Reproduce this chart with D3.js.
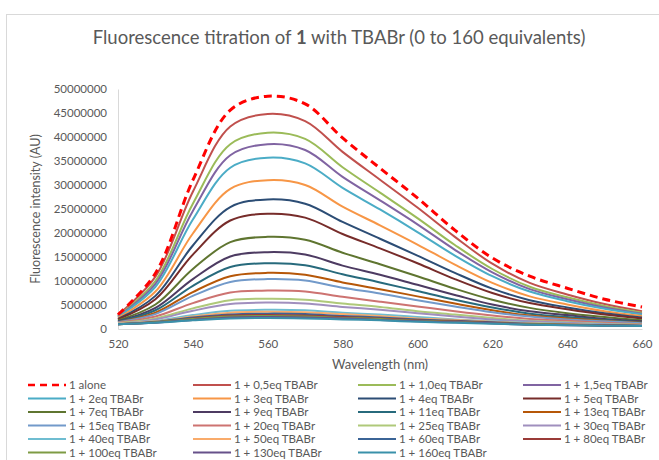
<!DOCTYPE html>
<html>
<head>
<meta charset="utf-8">
<script src="https://cdn.jsdelivr.net/npm/d3@7"></script>
<style>
  html, body { margin: 0; padding: 0; background: #ffffff; }
  svg { display: block; }
  text { font-family: Lato, "Open Sans", "Liberation Sans", sans-serif; fill: #595959; }
</style>
</head>
<body>
<svg id="chart" width="659" height="460"></svg>
<script>
// ---- data (intensity in millions of AU) ----
const wavelengths = [520, 530, 540, 550, 560, 570, 580, 590, 600, 610, 620, 630, 640, 650, 660];
const xTicks = [520, 540, 560, 580, 600, 620, 640, 660];
const yTicks = [0, 5, 10, 15, 20, 25, 30, 35, 40, 45, 50];

const seriesNames = ["1 alone", "1 + 0,5eq TBABr", "1 + 1,0eq TBABr", "1 + 1,5eq TBABr",
  "1 + 2eq TBABr", "1 + 3eq TBABr", "1 + 4eq TBABr", "1 + 5eq TBABr",
  "1 + 7eq TBABr", "1 + 9eq TBABr", "1 + 11eq TBABr", "1 + 13eq TBABr",
  "1 + 15eq TBABr", "1 + 20eq TBABr", "1 + 25eq TBABr", "1 + 30eq TBABr",
  "1 + 40eq TBABr", "1 + 50eq TBABr", "1 + 60eq TBABr", "1 + 80eq TBABr",
  "1 + 100eq TBABr", "1 + 130eq TBABr", "1 + 160eq TBABr"];

const eq0   = [3.0, 11.6, 31.0, 45.6, 48.5, 46.9, 39.8, 33.5, 27.3, 20.6, 14.8, 11.0, 8.5, 6.2, 4.6];
const eq0_5 = [2.9, 10.9, 28.6, 42.2, 44.8, 43.3, 36.9, 31.1, 25.3, 19.2, 13.6, 9.6, 7.2, 5.2, 3.7];
const eq1_0 = [2.7, 10.0, 26.1, 38.5, 40.9, 39.6, 33.7, 28.4, 23.1, 17.5, 12.5, 8.8, 6.6, 4.8, 3.4];
const eq1_5 = [2.6, 9.4, 24.6, 36.2, 38.5, 37.3, 31.7, 26.8, 21.8, 16.5, 11.8, 8.3, 6.2, 4.5, 3.2];
const eq2   = [2.5, 8.8, 22.8, 33.6, 35.7, 34.5, 29.4, 24.9, 20.2, 15.3, 11.0, 7.8, 5.8, 4.2, 3.0];
const eq3   = [2.3, 7.8, 19.9, 29.2, 31.0, 30.0, 25.5, 21.6, 17.6, 13.4, 9.6, 6.8, 5.1, 3.7, 2.7];
const eq4   = [2.1, 6.9, 17.4, 25.4, 27.0, 26.1, 22.3, 18.8, 15.3, 11.7, 8.4, 6.0, 4.5, 3.3, 2.4];
const eq5   = [2.0, 6.2, 15.5, 22.6, 24.0, 23.2, 19.8, 16.8, 13.7, 10.4, 7.5, 5.4, 4.1, 3.0, 2.2];
const eq7   = [1.8, 5.1, 12.5, 18.1, 19.2, 18.6, 15.9, 13.5, 11.0, 8.4, 6.1, 4.4, 3.3, 2.5, 1.8];
const eq9   = [1.6, 4.4, 10.4, 15.1, 16.0, 15.5, 13.2, 11.3, 9.2, 7.1, 5.1, 3.7, 2.9, 2.1, 1.6];
const eq11  = [1.5, 3.9, 9.0, 12.9, 13.7, 13.3, 11.4, 9.7, 7.9, 6.1, 4.5, 3.2, 2.5, 1.9, 1.4];
const eq13  = [1.4, 3.4, 7.7, 11.0, 11.7, 11.3, 9.7, 8.3, 6.8, 5.3, 3.9, 2.8, 2.2, 1.7, 1.3];
const eq15  = [1.4, 3.1, 6.9, 9.8, 10.4, 10.1, 8.6, 7.4, 6.0, 4.7, 3.5, 2.6, 2.0, 1.6, 1.2];
const eq20  = [1.3, 2.6, 5.4, 7.6, 8.0, 7.8, 6.7, 5.7, 4.7, 3.7, 2.8, 2.1, 1.7, 1.3, 1.0];
const eq25  = [1.2, 2.2, 4.3, 6.0, 6.3, 6.1, 5.3, 4.6, 3.7, 3.0, 2.3, 1.7, 1.4, 1.1, 0.9];
const eq30  = [1.1, 2.0, 3.8, 5.2, 5.5, 5.3, 4.6, 4.0, 3.3, 2.6, 2.0, 1.6, 1.3, 1.0, 0.8];
const eq40  = [1.1, 1.7, 2.9, 3.8, 4.0, 3.9, 3.4, 3.0, 2.5, 2.0, 1.6, 1.3, 1.1, 0.9, 0.7];
const eq50  = [1.1, 1.6, 2.6, 3.4, 3.6, 3.5, 3.1, 2.7, 2.2, 1.9, 1.5, 1.2, 1.0, 0.8, 0.7];
const eq60  = [1.0, 1.5, 2.4, 3.0, 3.2, 3.1, 2.7, 2.4, 2.0, 1.7, 1.4, 1.1, 0.9, 0.8, 0.7];
const eq80  = [1.0, 1.4, 2.2, 2.8, 2.9, 2.8, 2.5, 2.2, 1.8, 1.6, 1.3, 1.0, 0.9, 0.8, 0.6];
const eq100 = [1.0, 1.4, 2.1, 2.6, 2.7, 2.6, 2.3, 2.1, 1.7, 1.5, 1.2, 1.0, 0.9, 0.7, 0.6];
const eq130 = [1.0, 1.3, 1.9, 2.4, 2.5, 2.4, 2.2, 1.9, 1.6, 1.4, 1.2, 0.9, 0.8, 0.7, 0.6];
const eq160 = [1.0, 1.3, 1.8, 2.2, 2.3, 2.2, 2.0, 1.8, 1.5, 1.3, 1.1, 0.9, 0.8, 0.7, 0.6];

const seriesValues = [eq0, eq0_5, eq1_0, eq1_5, eq2, eq3, eq4, eq5, eq7, eq9, eq11, eq13,
  eq15, eq20, eq25, eq30, eq40, eq50, eq60, eq80, eq100, eq130, eq160];

const seriesColors = ["#FF0000", "#C0504D", "#9BBB59", "#8064A2", "#4BACC6", "#F79646",
  "#2C4D75", "#772C2A", "#5F7530", "#4D3B62", "#276A7C", "#B65708",
  "#729ACA", "#CD7371", "#AFC97A", "#A08FBE", "#6FBDD1", "#F9AB6B",
  "#3B6496", "#9A3B38", "#7E9B44", "#67518A", "#3A91AA"];

// ---- layout ----
const svg = d3.select("#chart");
const plot = { left: 118, right: 642, top: 89, bottom: 329 };

// chart frame
svg.append("rect")
  .attr("x", 6.5).attr("y", 14.5).attr("width", 720).attr("height", 520)
  .attr("fill", "#ffffff").attr("stroke", "#D9D9D9").attr("stroke-width", 1);

const x = d3.scaleLinear().domain([520, 660]).range([plot.left, plot.right]);
const y = d3.scaleLinear().domain([0, 50]).range([plot.bottom, plot.top]);

// title
const title = svg.append("text")
  .attr("x", 339).attr("y", 44)
  .attr("text-anchor", "middle")
  .style("font-size", "18.5px");
title.append("tspan").text("Fluorescence titration of ");
title.append("tspan").style("font-weight", "bold").text("1");
title.append("tspan").text(" with TBABr (0 to 160 equivalents)");

// axes
const yAxis = d3.axisLeft(y).tickValues(yTicks).tickSize(0).tickPadding(11)
  .tickFormat(d => String(Math.round(d * 1000000)));
const gy = svg.append("g").attr("transform", `translate(${plot.left},0)`).call(yAxis);
gy.select(".domain").attr("stroke", "#D9D9D9");
gy.selectAll("text").style("font-size", "11.5px").style("font-family", "Lato, sans-serif").attr("fill", "#595959");

const xAxis = d3.axisBottom(x).tickValues(xTicks).tickSize(0).tickPadding(11)
  .tickFormat(d3.format("d"));
const gx = svg.append("g").attr("transform", `translate(0,${plot.bottom})`).call(xAxis);
gx.select(".domain").attr("stroke", "#D9D9D9");
gx.selectAll("text").style("font-size", "11.5px").style("font-family", "Lato, sans-serif").attr("fill", "#595959");

// axis titles
svg.append("text")
  .attr("transform", `translate(40,${(plot.top + plot.bottom) / 2}) rotate(-90)`)
  .attr("text-anchor", "middle")
  .style("font-size", "12.5px")
  .text("Fluorescence intensity (AU)");

svg.append("text")
  .attr("x", 380).attr("y", 369)
  .attr("text-anchor", "middle")
  .style("font-size", "13px")
  .text("Wavelength (nm)");

// lines
const line = d3.line()
  .x((d, i) => x(wavelengths[i]))
  .y(d => y(d))
  .curve(d3.curveCatmullRom.alpha(0.5));

const drawOrder = seriesValues.map((v, i) => i).slice(1).concat([0]);
drawOrder.forEach(i => {
  svg.append("path")
    .datum(seriesValues[i])
    .attr("d", line)
    .attr("fill", "none")
    .attr("stroke", seriesColors[i])
    .attr("stroke-width", i === 0 ? 3 : 2)
    .attr("stroke-dasharray", i === 0 ? "8,5" : null)
    .attr("stroke-linejoin", "round");
});

// legend
const legendCols = [28, 193, 358, 523];
const legendTop = 385;
const rowH = 13.5;
seriesNames.forEach((name, i) => {
  const col = i % 4, row = Math.floor(i / 4);
  const lx = legendCols[col], ly = legendTop + row * rowH;
  const g = svg.append("g");
  g.append("line")
    .attr("x1", lx).attr("x2", lx + 38).attr("y1", ly).attr("y2", ly)
    .attr("stroke", seriesColors[i])
    .attr("stroke-width", i === 0 ? 2.5 : 2)
    .attr("stroke-dasharray", i === 0 ? "7,5" : null);
  g.append("text")
    .attr("x", lx + 41).attr("y", ly + 4)
    .style("font-size", "11.5px")
    .text(name);
});
</script>
</body>
</html>
